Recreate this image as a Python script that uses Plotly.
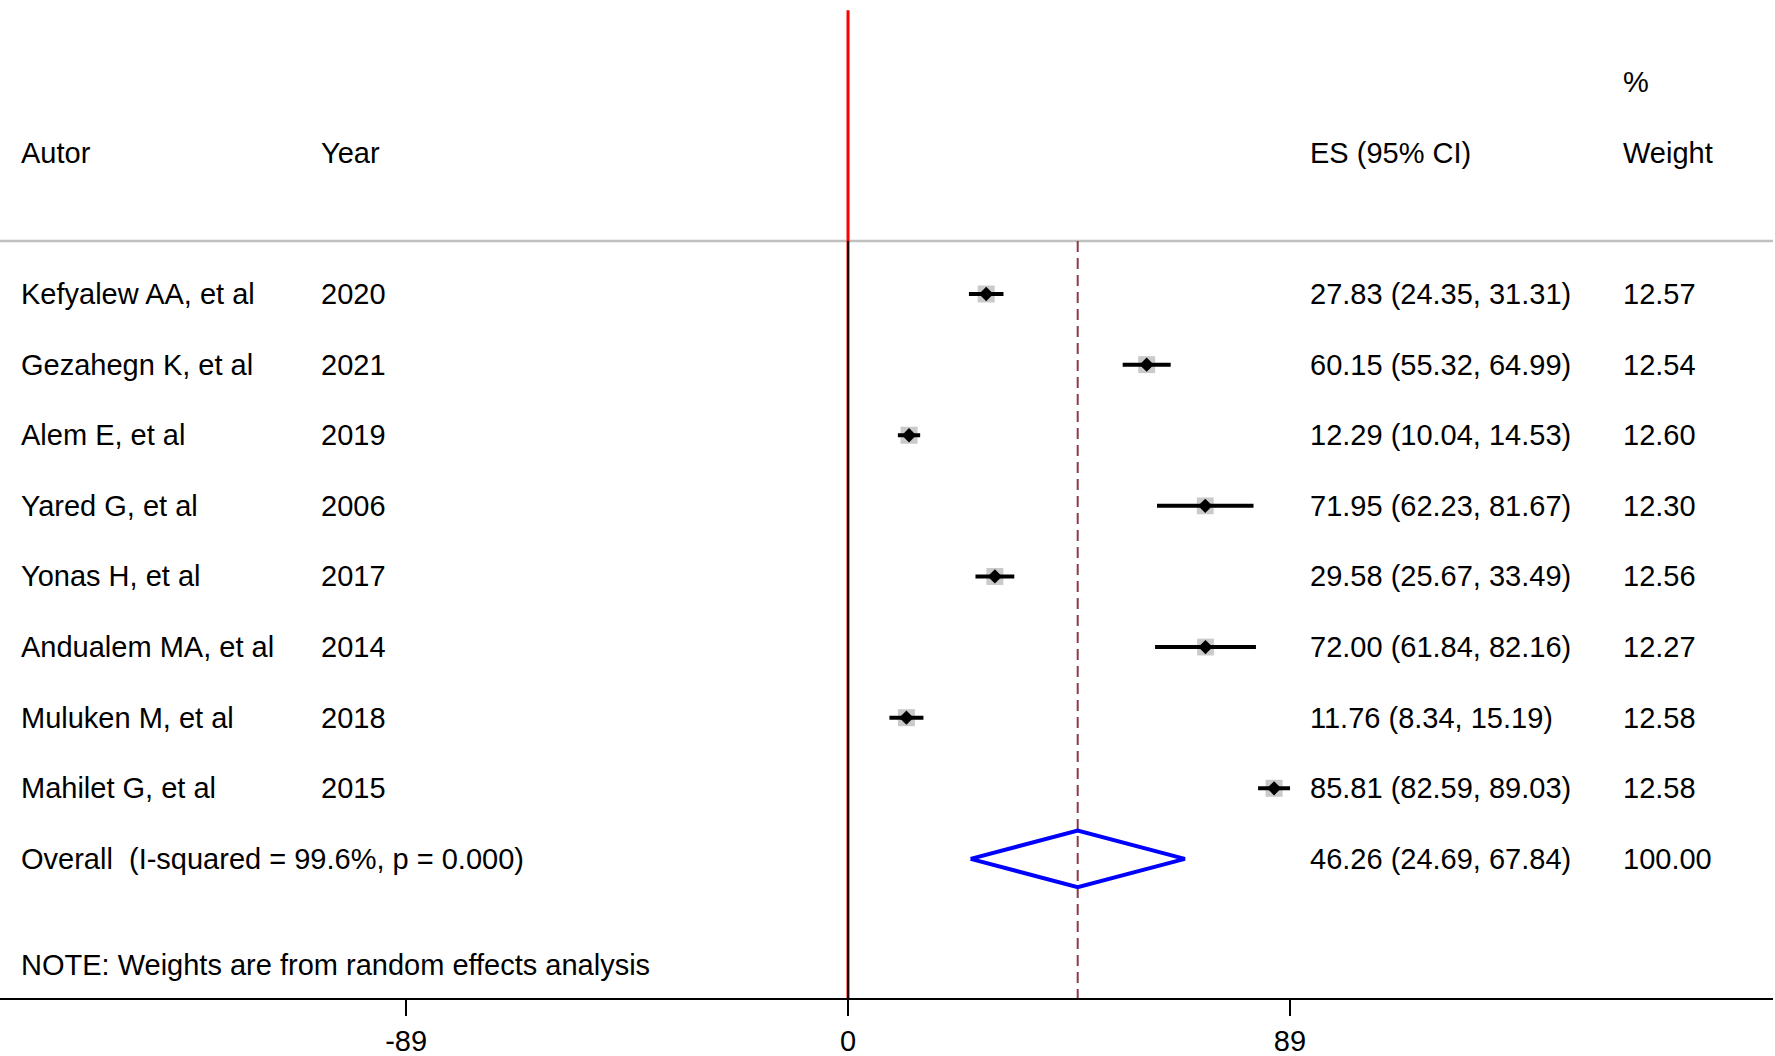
import plotly.graph_objects as go

# ---- data ----
authors = ["Kefyalew AA, et al", "Gezahegn K, et al", "Alem E, et al", "Yared G, et al",
           "Yonas H, et al", "Andualem MA, et al", "Muluken M, et al", "Mahilet G, et al"]
years = ["2020", "2021", "2019", "2006", "2017", "2014", "2018", "2015"]
es = [27.83, 60.15, 12.29, 71.95, 29.58, 72.00, 11.76, 85.81]
lo = [24.35, 55.32, 10.04, 62.23, 25.67, 61.84, 8.34, 82.59]
hi = [31.31, 64.99, 14.53, 81.67, 33.49, 82.16, 15.19, 89.03]
weights = [12.57, 12.54, 12.60, 12.30, 12.56, 12.27, 12.58, 12.58]

overall_label = "Overall\u00a0\u00a0(I-squared = 99.6%, p = 0.000)"
overall_es, overall_lo, overall_hi, overall_w = 46.26, 24.69, 67.84, 100.00
note = "NOTE: Weights are from random effects analysis"
tick_vals = [-89, 0, 89]
tick_text = ["-89", "0", "89"]

FONT = "Liberation Sans, Arial, Helvetica, sans-serif"
FS = 29

rows = list(range(len(authors)))
overall_row = len(authors)
note_row = overall_row + 1.5
header_row = -2
pct_row = -3
sep_row = -0.75
top_row = -4.02

fig = go.Figure()

# weight boxes
fig.add_trace(go.Scatter(
    x=es, y=rows, mode="markers",
    marker=dict(symbol="square", size=[17 * (w / 12.57) ** 0.5 for w in weights],
                color="#b4b4b4", line=dict(width=0)),
    hoverinfo="skip", showlegend=False))

# CI lines + point estimate
fig.add_trace(go.Scatter(
    x=es, y=rows, mode="markers",
    marker=dict(symbol="diamond", size=11, color="black"),
    error_x=dict(type="data", symmetric=False,
                 array=[h - e for h, e in zip(hi, es)],
                 arrayminus=[e - l for e, l in zip(es, lo)],
                 thickness=4, width=0, color="black"),
    showlegend=False))

# overall diamond
dh = 0.4
fig.add_trace(go.Scatter(
    x=[overall_lo, overall_es, overall_hi, overall_es, overall_lo],
    y=[overall_row, overall_row - dh, overall_row, overall_row + dh, overall_row],
    mode="lines", line=dict(color="#0000ff", width=4),
    showlegend=False))

y_bottom = 9.97
shapes = [
    dict(type="line", xref="paper", yref="y", x0=0, x1=1, y0=sep_row, y1=sep_row,
         line=dict(color="#c0c0c0", width=2.5), layer="below"),
    dict(type="line", xref="x", yref="y", x0=0, x1=0, y0=top_row, y1=y_bottom,
         line=dict(color="#ff0000", width=3)),
    dict(type="line", xref="x", yref="y", x0=0, x1=0, y0=sep_row, y1=y_bottom,
         line=dict(color="#1a0000", width=2)),
    dict(type="line", xref="x", yref="y", x0=overall_es, x1=overall_es, y0=sep_row, y1=y_bottom,
         line=dict(color="#8b3a46", width=2, dash="11px,6px"), layer="below"),
]

annotations = []
def txt(x, y, s):
    annotations.append(dict(x=x, y=y, xref="paper", yref="y", text=s, showarrow=False,
                            xanchor="left", yanchor="middle",
                            font=dict(family=FONT, size=FS, color="black")))

X_AUTH, X_YEAR, X_ES, X_W = 19 / 1775, 319 / 1775, 1309 / 1775, 1623 / 1775
txt(X_AUTH, header_row, "Autor")
txt(X_YEAR, header_row, "Year")
txt(X_ES, header_row, "ES (95% CI)")
txt(X_W, header_row, "Weight")
txt(X_W, pct_row, "%")
for r, a, yr, e, l, h, w in zip(rows, authors, years, es, lo, hi, weights):
    txt(X_AUTH, r, a)
    txt(X_YEAR, r, yr)
    txt(X_ES, r, f"{e:.2f} ({l:.2f}, {h:.2f})")
    txt(X_W, r, f"{w:.2f}")
txt(X_AUTH, overall_row, overall_label)
txt(X_ES, overall_row, f"{overall_es:.2f} ({overall_lo:.2f}, {overall_hi:.2f})")
txt(X_W, overall_row, f"{overall_w:.2f}")
txt(X_AUTH, note_row, note)

fig.update_layout(
    width=1775, height=1056,
    margin=dict(l=0, r=2, t=0, b=58, pad=0),
    paper_bgcolor="white", plot_bgcolor="white",
    shapes=shapes, annotations=annotations,
    xaxis=dict(range=[-170.8, 186.3], showgrid=False, zeroline=False,
               showline=True, linecolor="black", linewidth=2,
               ticks="outside", ticklen=16, tickwidth=1.5, tickcolor="black",
               tickvals=tick_vals, ticktext=tick_text,
               tickfont=dict(family=FONT, size=FS, color="black")),
    yaxis=dict(range=[y_bottom, -4.164], visible=False, showgrid=False, zeroline=False),
    showlegend=False,
)

fig.write_html("out.html", config={"displayModeBar": False},
               post_script="document.body.style.margin='0';document.body.style.overflow='hidden';")
